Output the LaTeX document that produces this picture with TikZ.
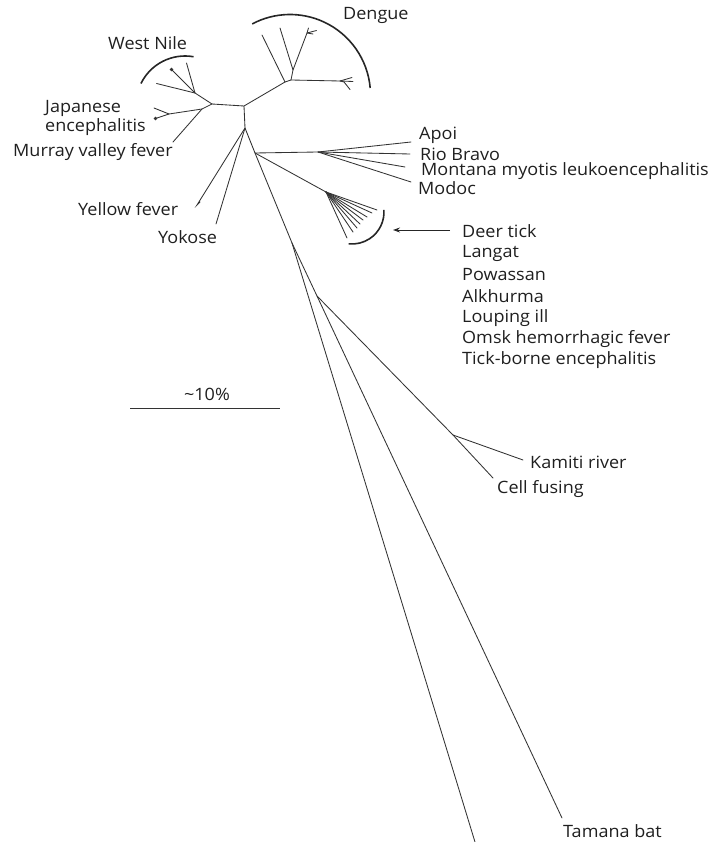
\documentclass[tikz,border=0pt]{standalone}
\usepackage{fontspec}
\setmainfont[FakeStretch=1.06]{Open Sans}
\usetikzlibrary{arrows.meta}
\definecolor{ln}{gray}{0.2}
\definecolor{txt}{gray}{0.12}
\begin{document}
\begin{tikzpicture}[x=1pt,y=-1pt,
  br/.style={line width=0.85pt, draw=ln, line cap=round},
  arcst/.style={line width=1.6pt, draw=black!85},
  lbl/.style={anchor=west, inner sep=0pt, font=\fontsize{17}{19}\selectfont, text=txt},
  blob/.style={fill=ln, draw=none}]
\useasboundingbox (0,0) rectangle (718,842);
% ---- internal points
\coordinate (A) at (212,104);
\coordinate (B) at (244,106);
\coordinate (C) at (245,128);
\coordinate (D) at (255,153);
\coordinate (G) at (292,243);
\coordinate (F) at (317,296);
\coordinate (E) at (453,435);
\coordinate (WN) at (195,93);
\coordinate (J1) at (202,109);
\coordinate (J2) at (169,114);
\coordinate (Dg) at (285,82);
\coordinate (Dg1) at (291,80);
\coordinate (Dg2) at (293,70);
\coordinate (Df1) at (307,33);
\coordinate (Df2) at (340,81);
\coordinate (H) at (318,152);
\coordinate (I) at (326,192);
% ---- leaves
\coordinate (wn1) at (171.5,69.5);
\coordinate (wn2) at (186.5,63);
\coordinate (wn3) at (156.5,83.5);
\coordinate (je1) at (154,108);
\coordinate (je2) at (155.5,118.5);
\coordinate (mvf) at (173,142);
\coordinate (yf) at (197,205);
\coordinate (yfa) at (200,202);
\coordinate (yok) at (216,224);
\coordinate (dg1) at (262,35);
\coordinate (dg2) at (280,28);
\coordinate (dfa) at (308.5,28);
\coordinate (dfb) at (316.5,30.5);
\coordinate (dfc) at (313,34);
\coordinate (dfd) at (352,77.5);
\coordinate (dfe) at (353,81.5);
\coordinate (dff) at (344,82);
\coordinate (dfg) at (350,89.5);
\coordinate (apoi) at (411,142);
\coordinate (rio) at (410,154);
\coordinate (mon) at (405,167);
\coordinate (mod) at (411,182);
\coordinate (t1) at (377,210);
\coordinate (t2) at (372,213);
\coordinate (t3) at (367,217);
\coordinate (t4) at (363,220);
\coordinate (t5) at (360,224);
\coordinate (t6) at (357,228);
\coordinate (t7) at (353,232);
\coordinate (t8) at (347,238);
\coordinate (kam) at (523,460);
\coordinate (cell) at (493,478);
\coordinate (tam) at (562,818);
\coordinate (lng) at (475,842);
% ---- branches
\draw[br] (A) -- (B) -- (C) -- (D) -- (G);
\draw[br] (A) -- (WN) -- (wn1);
\draw[br] (WN) -- (wn2);
\draw[br] (WN) -- (wn3);
\draw[br] (A) -- (J1) -- (J2) -- (je1);
\draw[br] (J2) -- (je2);
\draw[br] (J1) -- (mvf);
\fill[blob] (wn1) circle[radius=1.9pt];
\fill[blob] (je2) circle[radius=1.9pt];
\draw[br] (C) -- (yf) -- (yfa);
\draw[br] (C) -- (yok);
\draw[br] (B) -- (Dg) -- (dg1);
\draw[br] (Dg) -- (Dg1) -- (Dg2) -- (dg2);
\draw[br] (Dg2) -- (Df1) -- (dfa);
\draw[br] (Df1) -- (dfb);
\draw[br] (Df1) -- (dfc);
\draw[br] (Dg1) -- (Df2) -- (dfd);
\draw[br] (Df2) -- (dfe);
\draw[br] (Df2) -- (dff) -- (dfg);
\draw[br] (D) -- (H) -- (apoi);
\draw[br] (H) -- (rio);
\draw[br] (H) -- (mon);
\draw[br] (H) -- (mod);
\draw[br] (D) -- (I);
\foreach \t in {t1,t2,t3,t4,t5,t6,t7,t8} \draw[br] (I) -- (\t);
\draw[br] (G) -- (lng);
\draw[br] (G) -- (F) -- (tam);
\draw[br] (F) -- (E) -- (cell);
\draw[br] (E) -- (kam);
% ---- clade arcs
\draw[arcst] (185,105) ++(80:49pt) arc[start angle=80, end angle=154, radius=49pt];
\draw[arcst] (290,95) ++(5:80.5pt) arc[start angle=5, end angle=118, radius=80.5pt];
\draw[arcst] (352,212) ++(4:32pt) arc[start angle=4, end angle=-96, radius=32pt];
% ---- arrow
\coordinate (arS) at (450,230);
\coordinate (arE) at (393,230);
\draw[line width=1pt, draw=black!85, -{Stealth[length=7pt,width=5pt]}] (arS) -- (arE);
% ---- scale bar
\coordinate (sb1) at (130,408);
\coordinate (sb2) at (280,408);
\draw[line width=0.9pt, draw=ln] (sb1) -- (sb2);
\node[lbl, anchor=center] (sbl) at (207,394) {\char`\~10\%};
% ---- labels
\node[lbl] (lWN) at (108,43) {West Nile};
\node[lbl] (lDg) at (343,15) {Dengue};
\node[lbl] (lJE1) at (45,108) {Japanese};
\node[lbl] (lJE2) at (45,127) {encephalitis};
\node[lbl] (lMV) at (13,152) {Murray valley fever};
\node[lbl] (lYF) at (78,209) {Yellow fever};
\node[lbl] (lYk) at (158,237) {Yokose};
\node[lbl] (lAp) at (419,135) {Apoi};
\node[lbl] (lRB) at (420,154) {Rio Bravo};
\node[lbl] (lMo) at (421,171) {Montana myotis leukoencephalitis};
\node[lbl] (lMd) at (418,188) {Modoc};
\node[lbl] (l1) at (462,231) {Deer tick};
\node[lbl] (l2) at (462,253) {Langat};
\node[lbl] (l3) at (462,275) {Powassan};
\node[lbl] (l4) at (462,296) {Alkhurma};
\node[lbl] (l5) at (462,318) {Louping ill};
\node[lbl] (l6) at (462,339) {Omsk hemorrhagic fever};
\node[lbl] (l7) at (462,360) {Tick-borne encephalitis};
\node[lbl] (lKa) at (530,462) {Kamiti river};
\node[lbl] (lCe) at (497,489) {Cell fusing};
\node[lbl] (lTa) at (563,831) {Tamana bat};
\end{tikzpicture}
\end{document}
